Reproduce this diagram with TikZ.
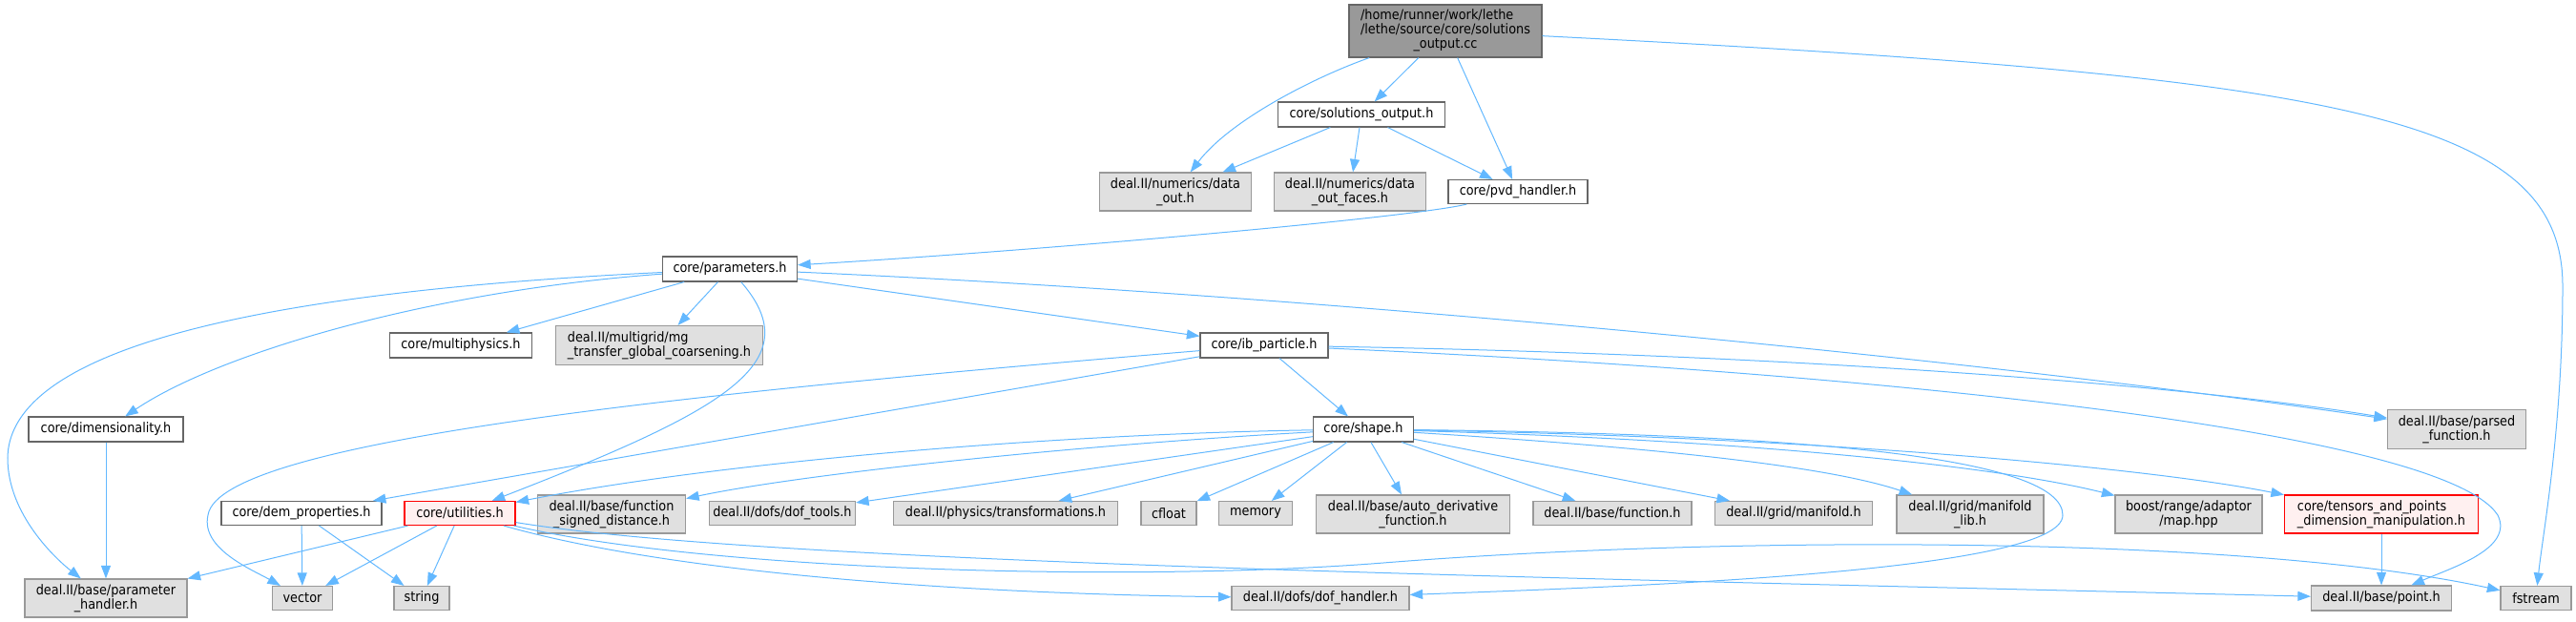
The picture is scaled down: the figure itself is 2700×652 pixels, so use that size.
\documentclass[tikz,border=0pt]{standalone}
\usepackage{fontspec}
\setmainfont{DejaVu Sans Condensed}
\usetikzlibrary{arrows.meta}
\definecolor{edgeblue}{HTML}{63B8FF}
\definecolor{framegray}{HTML}{666666}
\definecolor{sysgray}{HTML}{999999}
\definecolor{sysfill}{HTML}{E0E0E0}
\definecolor{rootfill}{HTML}{999999}
\definecolor{warnfill}{HTML}{FFF0F0}
\definecolor{warnred}{HTML}{FF0000}
\tikzset{
  file/.style={draw=framegray,fill=white,line width=0.8pt,inner sep=0pt,
    font=\fontsize{10}{10.3}\selectfont,align=center},
  sys/.style={file,draw=sysgray,fill=sysfill},
  warn/.style={file,draw=warnred,fill=warnfill},
  wh/.style 2 args={minimum width=#1*0.7pt,minimum height=#2*0.7pt},
  dep/.style={draw=edgeblue,line width=0.7pt,-{Triangle[length=9.5pt,width=7pt]}}}

\begin{document}
\begin{tikzpicture}[x=0.7pt,y=-0.7pt]
\useasboundingbox (0,0) rectangle (2700,652);

% top of the graph
\node[file,fill=rootfill,wh={202}{55}] (root) at (1515,32.5)
  {\begin{tabular}{@{}l@{}}/home/runner/work/lethe\\/lethe/source/core/solutions\\
   \multicolumn{1}{@{}c@{}}{\_output.cc}\end{tabular}};
\node[file,wh={175}{26}] (sol) at (1427,120) {core/solutions\_output.h};
\node[sys,wh={159}{40}] (dataout) at (1232,201) {deal.II/numerics/data\\\_out.h};
\node[sys,wh={159}{40}] (faces) at (1415,201) {deal.II/numerics/data\\\_out\_faces.h};
\node[file,wh={146}{25}] (pvd) at (1591,201) {core/pvd\_handler.h};
\node[file,wh={141}{26}] (params) at (765,282) {core/parameters.h};

% middle rows
\node[file,wh={149}{26}] (multiphys) at (483,362) {core/multiphysics.h};
\node[sys,wh={217}{41},align=left] (mgtransfer) at (691,362) {deal.II/multigrid/mg\\\_transfer\_global\_coarsening.h};
\node[file,wh={134}{26}] (ibpart) at (1325,362) {core/ib\_particle.h};
\node[file,wh={162}{26}] (dimen) at (111,450) {core/dimensionality.h};
\node[file,wh={105}{26}] (shape) at (1429,450) {core/shape.h};
\node[sys,wh={145}{41}] (parsed) at (2575,450) {deal.II/base/parsed\\\_function.h};

% row of headers
\node[file,wh={168}{25}] (demprop) at (316,538) {core/dem\_properties.h};
\node[warn,wh={116}{25}] (util) at (482,538) {core/utilities.h};
\node[sys,wh={155}{40}] (fsd) at (641,539) {deal.II/base/function\\\_signed\_distance.h};
\node[sys,wh={153}{25}] (doftools) at (820,538) {deal.II/dofs/dof\_tools.h};
\node[sys,wh={235}{25}] (transf) at (1054,538) {deal.II/physics/transformations.h};
\node[sys,wh={58}{25}] (cfloat) at (1225,538) {cfloat};
\node[sys,wh={77}{25}] (memory) at (1316,538) {memory};
\node[sys,wh={203}{40}] (autoder) at (1481,539) {deal.II/base/auto\_derivative\\\_function.h};
\node[sys,wh={166}{25}] (function) at (1690,538) {deal.II/base/function.h};
\node[sys,wh={165}{25}] (manifold) at (1880,538) {deal.II/grid/manifold.h};
\node[sys,wh={154}{40}] (mlib) at (2065,539) {deal.II/grid/manifold\\\_lib.h};
\node[sys,wh={154}{40}] (maphpp) at (2294,539) {boost/range/adaptor\\/map.hpp};
\node[warn,wh={203}{40},align=left] (tensors) at (2496,539) {core/tensors\_and\_points\\\_dimension\_manipulation.h};

% bottom row
\node[sys,wh={170}{40}] (ph) at (111,627) {deal.II/base/parameter\\\_handler.h};
\node[sys,wh={63}{25}] (vector) at (317,627) {vector};
\node[sys,wh={58}{25}] (string) at (442,627) {string};
\node[sys,wh={186}{25}] (dofh) at (1384,627) {deal.II/dofs/dof\_handler.h};
\node[sys,wh={147}{26}] (point) at (2496,627) {deal.II/base/point.h};
\node[sys,wh={74}{25}] (fstream) at (2658,627) {fstream};

\draw[dep] (root) .. controls (1380,80) and (1290,125) .. (dataout);
\draw[dep] (root) -- (sol);
\draw[dep] (root) -- (pvd);
\draw[dep] (root) .. controls (2450,80) and (2686,120) .. (2686,300)
  .. controls (2686,450) and (2665,560) .. (fstream);
\draw[dep] (sol) -- (dataout);
\draw[dep] (sol) -- (faces);
\draw[dep] (sol) -- (pvd);
\draw[dep] (pvd) .. controls (1480,228) and (1100,262) .. (params);

\draw[dep] (params) .. controls (400,300) and (10,340) .. (8,480)
  .. controls (8,540) and (60,587) .. (ph);
\draw[dep] (params) .. controls (450,305) and (230,370) .. (dimen);
\draw[dep] (params) -- (multiphys);
\draw[dep] (params) -- (mgtransfer);
\draw[dep] (params) .. controls (850,380) and (760,430) .. (util);
\draw[dep] (params) -- (ibpart);
\draw[dep] (params) .. controls (1400,310) and (2100,380) .. (parsed);
\draw[dep] (dimen) -- (ph);

\draw[dep] (ibpart) .. controls (750,410) and (230,460) .. (218,540)
  .. controls (210,575) and (264,597) .. (vector);
\draw[dep] (ibpart) -- (demprop);
\draw[dep] (ibpart) -- (shape);
\draw[dep] (ibpart) .. controls (1900,372) and (2300,405) .. (parsed);
\draw[dep] (ibpart) .. controls (1950,390) and (2560,450) .. (2618,540)
  .. controls (2635,575) and (2570,595) .. (point);

\draw[dep] (shape) .. controls (1100,455) and (750,485) .. (util);
\draw[dep] (shape) .. controls (1150,465) and (850,495) .. (fsd);
\draw[dep] (shape) -- (doftools);
\draw[dep] (shape) -- (transf);
\draw[dep] (shape) -- (cfloat);
\draw[dep] (shape) -- (memory);
\draw[dep] (shape) -- (autoder);
\draw[dep] (shape) -- (function);
\draw[dep] (shape) -- (manifold);
\draw[dep] (shape) .. controls (1750,470) and (1920,490) .. (mlib);
\draw[dep] (shape) .. controls (1850,462) and (2100,490) .. (maphpp);
\draw[dep] (shape) .. controls (1900,458) and (2250,490) .. (tensors);
\draw[dep] (shape) .. controls (1900,455) and (2162,480) .. (2162,540)
  .. controls (2162,600) and (1700,615) .. (dofh);

\draw[dep] (demprop) -- (vector);
\draw[dep] (demprop) -- (string);
\draw[dep] (util) -- (ph);
\draw[dep] (util) -- (vector);
\draw[dep] (util) -- (string);
\draw[dep] (util) .. controls (700,600) and (1000,622) .. (dofh);
\draw[dep] (util) .. controls (800,590) and (1600,605) .. (point);
\draw[dep] (util) .. controls (750,600) and (1200,610) .. (1450,590)
  .. controls (1800,562) and (2350,560) .. (fstream);
\draw[dep] (tensors) -- (point);
\end{tikzpicture}
\end{document}
